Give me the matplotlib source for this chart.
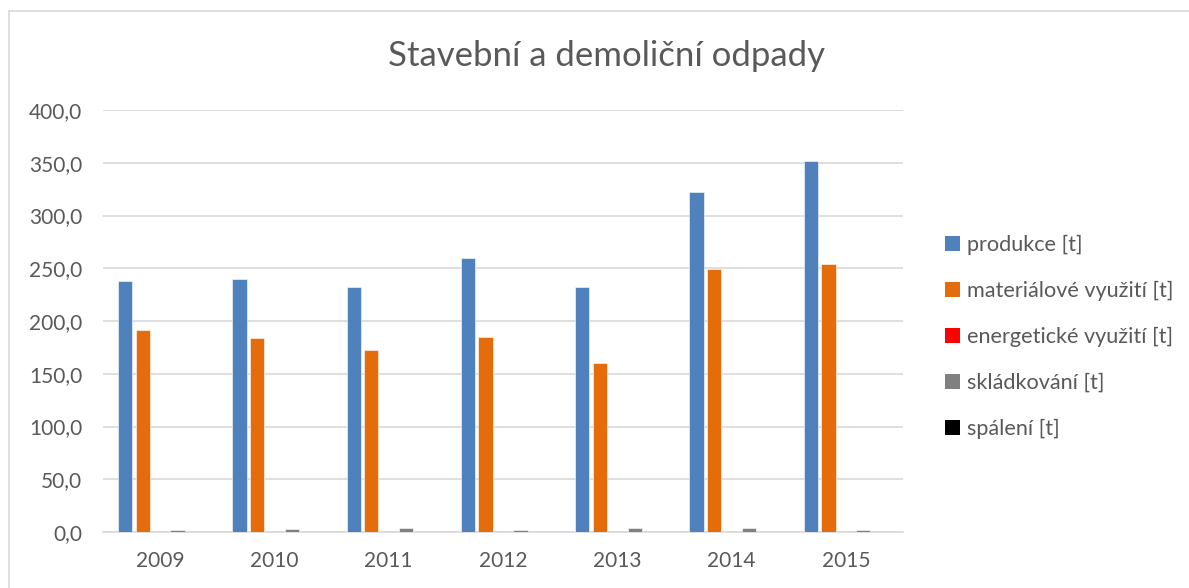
import matplotlib
matplotlib.use("Agg")
import matplotlib.pyplot as plt
import numpy as np
from matplotlib.patches import Patch
from matplotlib.lines import Line2D

plt.rcParams['font.family'] = ['Lato', 'DejaVu Sans']

years = ['2009', '2010', '2011', '2012', '2013', '2014', '2015']
produkce = [237.9, 239.5, 232.5, 259.9, 232.5, 322.6, 351.4]
materialove = [191.8, 183.9, 172.2, 184.8, 159.9, 249.0, 254.0]
energeticke = [0, 0, 0, 0, 0, 0, 0]
skladkovani = [1.9, 2.8, 3.5, 1.5, 3.5, 4.1, 1.5]
spaleni = [0, 0, 0, 0, 0, 0, 0]

series = [
    ('produkce [t]', produkce, '#4f81bd'),
    ('materiálové využití [t]', materialove, '#e46c0a'),
    ('energetické využití [t]', energeticke, '#ff0000'),
    ('skládkování [t]', skladkovani, '#808080'),
    ('spálení [t]', spaleni, '#000000'),
]
yticks = [0, 50, 100, 150, 200, 250, 300, 350, 400]
ytick_labels = ['0,0', '50,0', '100,0', '150,0', '200,0', '250,0', '300,0', '350,0', '400,0']

W, H = 1189, 588
fig = plt.figure(figsize=(W / 100, H / 100), dpi=100)
ax = fig.add_axes([103 / W, 1 - 532 / H, 800 / W, 422 / H])

x = np.arange(len(years))
step = 0.153
bw = 0.125
handles = []
for i, (name, vals, col) in enumerate(series):
    ax.bar(x + (i - 2) * step, vals, width=bw, color=col, edgecolor='white', linewidth=0.4, zorder=3)
    handles.append(Patch(facecolor=col, edgecolor='none', label=name))

ax.set_xlim(-0.5, len(years) - 0.5)
ax.set_ylim(0, 400)
ax.set_yticks(yticks)
ax.set_yticklabels(ytick_labels)
ax.set_xticks(x)
ax.set_xticklabels(years)
ax.grid(axis='y', color='#d9d9d9', linewidth=1.2, zorder=0)
for s in ['top', 'right', 'left']:
    ax.spines[s].set_visible(False)
ax.spines['bottom'].set_color('#d9d9d9')
ax.spines['bottom'].set_linewidth(1.2)
ax.tick_params(axis='both', length=0, labelsize=15, labelcolor='#595959')
ax.tick_params(axis='y', pad=15)
ax.tick_params(axis='x', pad=14)

fig.text(606 / W, 1 - 56 / H, 'Stavební a demoliční odpady', ha='center', va='center',
         fontsize=25, color='#595959', fontweight='normal')

leg = fig.legend(handles=handles, loc='upper left', bbox_to_anchor=(936 / W, 1 - 226 / H),
                 frameon=False, fontsize=15.6, labelcolor='#595959', handlelength=0.72,
                 handleheight=0.72, handletextpad=0.3, labelspacing=1.2, borderaxespad=0)

# outer chart border (left and top visible)
fig.add_artist(Line2D([9 / W, 9 / W], [0, 1 - 11 / H], transform=fig.transFigure, color='#d9d9d9', linewidth=1.2))
fig.add_artist(Line2D([9 / W, 1], [1 - 11 / H, 1 - 11 / H], transform=fig.transFigure, color='#d9d9d9', linewidth=1.2))

fig.savefig('out.png', dpi=100, facecolor='white')
